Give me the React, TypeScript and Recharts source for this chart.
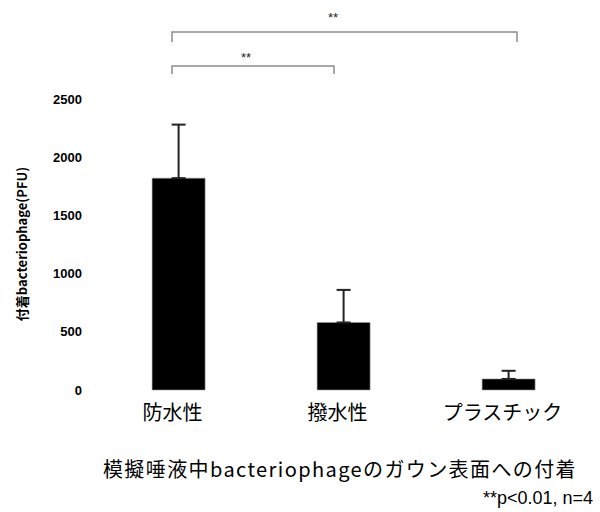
import React from "react";
import { BarChart, Bar, XAxis, YAxis, ErrorBar } from "recharts";

const categories = ["防水性", "撥水性", "プラスチック"];
const meanPfu = [1820, 580, 95];
const sdPfu = [460, 280, 70];
const yTicks = [0, 500, 1000, 1500, 2000, 2500];

const yLabel = "付着bacteriophage(PFU)";
const title = "模擬唾液中bacteriophageのガウン表面への付着";
const note = "**p<0.01, n=4";

const data = categories.map((name, i) => ({
  name,
  value: meanPfu[i],
  err: [0, sdPfu[i]],
}));

const JP = "'Noto Sans CJK JP', 'Liberation Sans', sans-serif";

function CategoryTick(props: any) {
  const { x, y, payload } = props;
  return (
    <text x={x - 6} y={y + 22} textAnchor="middle" fontSize={20} fontFamily={JP} fill="#000">
      {payload.value}
    </text>
  );
}

function YTitle() {
  return (
    <text
      x={0}
      y={0}
      transform="translate(27, 244) rotate(-90)"
      textAnchor="middle"
      fontSize={13}
      fontWeight="bold"
      fontFamily={JP}
      fill="#000"
    >
      {yLabel}
    </text>
  );
}

export default function App() {
  return (
    <div style={{ position: "absolute", left: 0, top: 0, width: 600, height: 512, background: "#fff" }}>
      <BarChart
        width={600}
        height={512}
        data={data}
        margin={{ top: 99, right: 9, bottom: 0, left: 0 }}
        barCategoryGap="34%"
      >
        <XAxis
          dataKey="name"
          axisLine={false}
          tickLine={false}
          height={122}
          tick={<CategoryTick />}
          interval={0}
        />
        <YAxis
          domain={[0, 2500]}
          ticks={yTicks}
          width={96}
          axisLine={false}
          tickLine={false}
          tickSize={6}
          tickMargin={8}
          tick={{ fill: "#000", fontSize: 13, fontWeight: "bold", fontFamily: "'Liberation Sans', Arial, sans-serif" }}
          label={<YTitle />}
        />
        <Bar dataKey="value" fill="#000" stroke="#9a9a9a" strokeWidth={0.6} isAnimationActive={false}>
          <ErrorBar dataKey="err" width={7} stroke="#222" strokeWidth={2} direction="y" />
        </Bar>
      </BarChart>

      <svg width={600} height={512} style={{ position: "absolute", left: 0, top: 0, pointerEvents: "none" }}>
        <g stroke="#8c8c8c" strokeWidth={1.5} fill="none">
          <polyline points="172,42 172,32 517,32 517,42" />
          <polyline points="172,74 172,66 334,66 334,74" />
        </g>
        <g fontSize={13} fill="#222" fontFamily="'Liberation Sans', sans-serif" textAnchor="middle">
          <text x={333} y={22}>**</text>
          <text x={246} y={62}>**</text>
        </g>
        <text x={340} y={477} textAnchor="middle" fontSize={20} letterSpacing={1.4} fontFamily={JP} fill="#000">
          {title}
        </text>
        <text x={593} y={504} textAnchor="end" fontSize={18} fontFamily="'Liberation Sans', sans-serif" fill="#000">
          {note}
        </text>
      </svg>
    </div>
  );
}
